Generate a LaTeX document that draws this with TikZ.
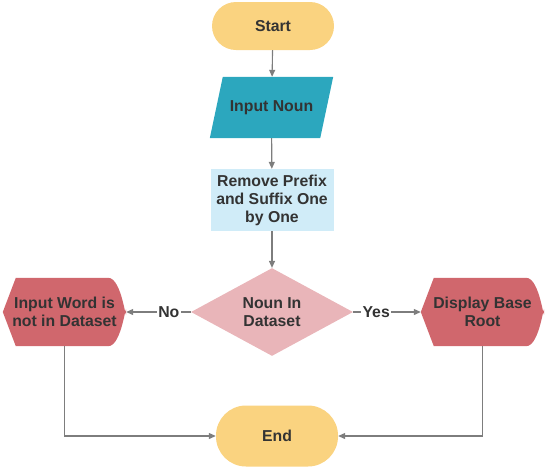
\documentclass[tikz,border=0pt]{standalone}
\usepackage{fontspec}
\setmainfont{Liberation Sans}
\usepackage{xcolor}
\usepackage{tikz}
\usetikzlibrary{shapes.geometric,positioning}
\usetikzlibrary{arrows.meta}
\usetikzlibrary{backgrounds}
\definecolor{startorange}{RGB}{250,211,128}
\definecolor{inputteal}{RGB}{44,167,190}
\definecolor{steplightblue}{RGB}{208,236,248}
\definecolor{checkpink}{RGB}{233,181,185}
\definecolor{dispred}{RGB}{208,103,109}
\definecolor{textgray}{RGB}{51,51,51}
\definecolor{linegray}{RGB}{125,125,125}
\tikzset{
    % text of all boxes
    boxtext/.style={
        font=\fontsize{15.8}{18}\selectfont\bfseries,
        text=textgray,
        align=center,
        inner sep=0pt
    },
    % start and end
    pillbox/.style={
        boxtext,
        rectangle,
        fill=startorange,
        minimum width=122pt
    },
    % input (the teal shape is filled afterwards)
    inputbox/.style={
        boxtext,
        rectangle,
        minimum width=110pt,
        minimum height=61pt
    },
    % process step
    stepbox/.style={
        boxtext,
        rectangle,
        fill=steplightblue,
        minimum width=123pt,
        minimum height=62pt
    },
    % decision
    checkbox/.style={
        boxtext,
        diamond,
        fill=checkpink,
        minimum width=162pt,
        minimum height=85pt
    },
    % display (the red shape is filled afterwards)
    dispbox/.style={
        boxtext,
        rectangle,
        minimum width=123pt,
        minimum height=68pt
    },
    % grey arrows
    grayarrow/.style={
        line width=1.1pt,
        linegray,
        -{Triangle[length=7pt, width=6pt]}
    },
    yesno/.style={
        boxtext,
        fill=white,
        inner sep=1.5pt
    }
}
% fill the display shape behind a node
\newcommand{\displayfill}[1]{%
    \fill[dispred] ([xshift=13pt]#1.north west) -- ([xshift=-18pt]#1.north east)
        .. controls ([xshift=-4pt]#1.north east) and ([yshift=-14pt]#1.east) .. (#1.east)
        .. controls ([yshift=14pt]#1.east) and ([xshift=-4pt]#1.south east) .. ([xshift=-18pt]#1.south east)
        -- ([xshift=13pt]#1.south west) -- (#1.west) -- cycle;}
% fill the slanted input shape behind a node
\newcommand{\slantfill}[1]{%
    \fill[inputteal] ([xshift=-6.5pt]#1.south west) -- ([xshift=6.5pt]#1.north west)
        -- ([xshift=6.5pt]#1.north east) -- ([xshift=-6.5pt]#1.south east) -- cycle;}

\begin{document}
\begin{tikzpicture}[x=1pt,y=-1pt]
    \useasboundingbox (0,0) rectangle (548,469);
    % ===================== boxes =====================
    \node[pillbox, minimum height=48pt, rounded corners=24pt] (start) at (273,26) {Start};
    \node[inputbox] (noun) at (271.5,107.5) {Input Noun};
    \node[stepbox] (strip) at (272,200) {Remove Prefix\\and Suffix One\\by One};
    \node[checkbox] (check) at (272,312) {Noun In\\Dataset};
    \node[dispbox] (nodata) at (64.5,312) {Input Word is\\not in Dataset};
    \node[dispbox] (root) at (482.5,312) {Display Base\\Root};
    \node[pillbox, minimum height=61pt, rounded corners=30pt] (finish) at (277,436) {End};

    % coloured shapes behind the text
    \begin{scope}[on background layer]
        \slantfill{noun}
        \displayfill{nodata}
        \displayfill{root}
    \end{scope}

    % ===================== arrows =====================
    \draw[grayarrow] (start) -- (noun);
    \draw[grayarrow] (noun) -- (strip);
    \draw[grayarrow] (strip) -- (check);
    \draw[grayarrow] (check.west) -- node[yesno, pos=0.34] {No} (nodata.east);
    \draw[grayarrow] (check.east) -- node[yesno, pos=0.34] {Yes} (root.west);
    \draw[grayarrow] (nodata.south) |- (finish.west);
    \draw[grayarrow] (root.south) |- (finish.east);
\end{tikzpicture}
\end{document}
